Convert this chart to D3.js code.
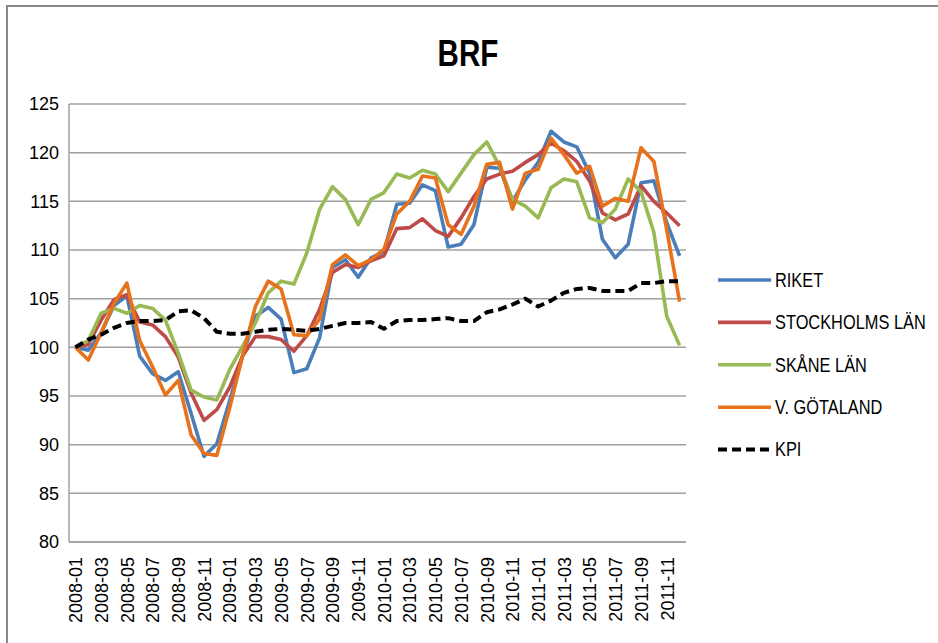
<!DOCTYPE html>
<html>
<head>
<meta charset="utf-8">
<script src="https://cdn.jsdelivr.net/npm/d3@7"></script>
<style>
  body { margin: 0; background: #fff; }
  svg { display: block; }
</style>
</head>
<body>
<div id="chart"></div>
<script>
// chart.js

const width = 938;
const height = 643;

// months 2008-01 .. 2011-12
const months = [];
for (let y = 2008; y <= 2011; y++) {
    for (let m = 1; m <= 12; m++) months.push(y + "-" + (m < 10 ? "0" + m : m));
}

const yTicks = [80, 85, 90, 95, 100, 105, 110, 115, 120, 125];

const riket = [100.0, 99.7, 101.5, 104.3, 105.3, 99.1, 97.3, 96.6, 97.5, 93.2, 88.8, 90.1,
    94.5, 99.1, 103.2, 104.1, 102.9, 97.4, 97.8, 101.0, 108.2, 109.0, 107.2, 109.2,
    109.8, 114.7, 114.8, 116.7, 116.1, 110.3, 110.6, 112.6, 118.5, 118.4, 115.0, 117.2,
    119.0, 122.2, 121.1, 120.6, 117.9, 111.1, 109.2, 110.6, 116.9, 117.1, 112.8, 109.4];

const stockholm = [100.0, 100.3, 102.8, 104.9, 105.4, 102.6, 102.3, 101.1, 99.0, 95.3, 92.5, 93.6,
    95.9, 99.1, 101.1, 101.1, 100.8, 99.6, 101.2, 103.9, 107.7, 108.5, 108.2, 108.9,
    109.4, 112.2, 112.3, 113.2, 112.0, 111.4, 113.3, 115.5, 117.3, 117.8, 118.1, 119.0,
    119.8, 121.0, 120.2, 119.1, 117.1, 113.8, 113.1, 113.7, 116.6, 115.0, 113.8, 112.5];

const skane = [100.0, 100.7, 103.5, 104.0, 103.5, 104.3, 104.0, 102.8, 99.4, 95.6, 94.9, 94.6,
    97.7, 100.1, 102.5, 105.6, 106.8, 106.5, 109.7, 114.2, 116.5, 115.2, 112.6, 115.2,
    115.9, 117.8, 117.4, 118.2, 117.8, 116.0, 117.9, 119.8, 121.1, 118.6, 115.2, 114.5,
    113.3, 116.4, 117.3, 117.0, 113.3, 112.8, 114.2, 117.3, 116.0, 111.8, 103.2, 100.2];

const gotaland = [100.0, 98.7, 101.5, 104.5, 106.6, 100.7, 98.0, 95.1, 96.6, 91.0, 89.1, 88.9,
    93.8, 99.1, 104.2, 106.8, 106.0, 101.3, 101.2, 102.9, 108.5, 109.5, 108.4, 109.0,
    110.1, 113.7, 115.0, 117.6, 117.4, 112.6, 111.6, 114.5, 118.8, 119.0, 114.2, 117.9,
    118.3, 121.5, 119.8, 117.9, 118.6, 114.5, 115.3, 115.0, 120.5, 119.1, 112.1, 104.7];

const kpi = [100.0, 100.8, 101.3, 102.0, 102.5, 102.7, 102.7, 102.8, 103.7, 103.8, 103.0, 101.6,
    101.4, 101.4, 101.6, 101.8, 101.9, 101.8, 101.7, 101.9, 102.2, 102.5, 102.5, 102.6,
    101.9, 102.7, 102.8, 102.8, 102.9, 103.0, 102.7, 102.7, 103.6, 103.9, 104.4, 105.0,
    104.2, 104.8, 105.6, 106.0, 106.1, 105.8, 105.8, 105.8, 106.6, 106.6, 106.8, 106.8];

const series = [
    { name: "RIKET", values: riket, color: "#4a7ebb", dash: null },
    { name: "STOCKHOLMS LÄN", values: stockholm, color: "#be4b48", dash: null },
    { name: "SKÅNE LÄN", values: skane, color: "#98b954", dash: null },
    { name: "V. GÖTALAND", values: gotaland, color: "#e8721c", dash: null },
    { name: "KPI", values: kpi, color: "#000000", dash: "9,5" }
];

const plot = { left: 69, right: 686, top: 104, bottom: 542 };

const svg = d3.select("#chart")
    .append("svg")
    .attr("width", width)
    .attr("height", height);

svg.append("rect").attr("width", width).attr("height", height).attr("fill", "#fff");

// outer frame (left + top edges visible in the crop)
svg.append("path")
    .attr("d", `M7,${height} L7,6 L${width},6`)
    .attr("fill", "none")
    .attr("stroke", "#878787")
    .attr("stroke-width", 2);

const x = d3.scalePoint()
    .domain(months)
    .range([plot.left, plot.right])
    .padding(0.5);

const y = d3.scaleLinear()
    .domain([80, 125])
    .range([plot.bottom, plot.top]);

// gridlines
svg.append("g")
    .selectAll("line")
    .data(yTicks)
    .enter().append("line")
    .attr("x1", plot.left)
    .attr("x2", plot.right)
    .attr("y1", d => y(d))
    .attr("y2", d => y(d))
    .attr("stroke", "#a0a0a0")
    .attr("stroke-width", 1.5);

// axis lines
svg.append("line")
    .attr("x1", plot.left).attr("x2", plot.left)
    .attr("y1", plot.top).attr("y2", plot.bottom)
    .attr("stroke", "#a0a0a0").attr("stroke-width", 1.5);

// y axis labels
const yAxis = d3.axisLeft(y).tickValues(yTicks).tickSize(0).tickPadding(10);
svg.append("g")
    .attr("transform", `translate(${plot.left},0)`)
    .call(yAxis)
    .call(g => g.select(".domain").remove())
    .selectAll("text")
    .attr("font-family", "Liberation Sans, Arial, sans-serif")
    .attr("font-size", 18)
    .attr("fill", "#000");

// x axis labels (every second month)
const xAxis = d3.axisBottom(x)
    .tickValues(months.filter((d, i) => i % 2 === 0))
    .tickSize(0)
    .tickPadding(0);
svg.append("g")
    .attr("transform", `translate(0,${plot.bottom})`)
    .call(xAxis)
    .call(g => g.select(".domain").attr("stroke", "#a0a0a0").attr("stroke-width", 1.5)
        .attr("d", `M${plot.left},0H${plot.right}`))
    .selectAll("text")
    .attr("font-family", "Liberation Sans, Arial, sans-serif")
    .attr("font-size", 18)
    .attr("fill", "#000")
    .attr("text-anchor", "end")
    .attr("dy", "0.35em")
    .attr("transform", "translate(0,15) rotate(-90)")
    .attr("x", 0)
    .attr("y", 0);

// lines
const line = d3.line()
    .x((d, i) => x(months[i]))
    .y(d => y(d));

svg.append("g")
    .selectAll("path")
    .data(series)
    .enter().append("path")
    .attr("d", d => line(d.values))
    .attr("fill", "none")
    .attr("stroke", d => d.color)
    .attr("stroke-width", d => d.dash ? 4 : 3.6)
    .attr("stroke-dasharray", d => d.dash)
    .attr("stroke-linejoin", "round");

// title (condensed to mimic the narrow original face)
svg.append("text")
    .attr("transform", "translate(468,66) scale(0.8,1)")
    .attr("text-anchor", "middle")
    .attr("font-family", "Liberation Sans, Arial, sans-serif")
    .attr("font-weight", "bold")
    .attr("font-size", 37)
    .text("BRF");

// legend
const legend = svg.append("g")
    .selectAll("g")
    .data(series)
    .enter().append("g")
    .attr("transform", (d, i) => `translate(718,${280 + i * 42.4})`);

legend.append("line")
    .attr("x1", 0).attr("x2", 53)
    .attr("stroke", d => d.color)
    .attr("stroke-width", d => d.dash ? 4 : 3.6)
    .attr("stroke-dasharray", d => d.dash);

legend.append("text")
    .attr("transform", "translate(57,0) scale(0.84,1)")
    .attr("dy", "0.35em")
    .attr("font-family", "Liberation Sans, Arial, sans-serif")
    .attr("font-size", 19.5)
    .attr("fill", "#000")
    .text(d => d.name);
</script>
</body>
</html>
